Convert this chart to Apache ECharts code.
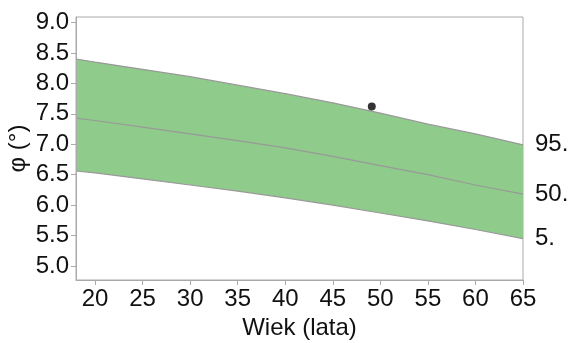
<!DOCTYPE html>
<html>
<head>
<meta charset="utf-8">
<script src="https://cdn.jsdelivr.net/npm/echarts@6/dist/echarts.min.js"></script>
<style>html,body{margin:0;padding:0;background:#fff;}#c{width:569px;height:343px;}</style>
</head>
<body>
<div id="c"></div>
<script>
const ages = [18, 20, 25, 30, 35, 40, 45, 50, 55, 60, 65];
const p95 = [8.40, 8.35, 8.23, 8.11, 7.97, 7.83, 7.68, 7.51, 7.33, 7.17, 6.99];
const p50 = [7.43, 7.39, 7.28, 7.17, 7.06, 6.94, 6.80, 6.65, 6.50, 6.33, 6.18];
const p5  = [6.56, 6.53, 6.43, 6.33, 6.23, 6.12, 6.00, 5.87, 5.74, 5.60, 5.45];
const point = [[49.1, 7.62]];
const xTicks = [20, 25, 30, 35, 40, 45, 50, 55, 60, 65];
const yTicks = [5.0, 5.5, 6.0, 6.5, 7.0, 7.5, 8.0, 8.5, 9.0];

const FONT = 'Liberation Sans';
const FS = 24;
const lineGray = '#999999';
const chart = echarts.init(document.getElementById('c'), null, {renderer: 'canvas'});
const bandRows = ages.map((a, i) => [a, p5[i], p95[i]]);

const endLbl = (txt) => ({
  show: true, formatter: txt, color: '#111', fontFamily: FONT, fontSize: FS, distance: 12
});

chart.setOption({
  animation: false,
  grid: {left: 76, right: 46, top: 17, bottom: 63, outerBoundsMode: 'none', containLabel: false,
         show: true, borderColor: '#aaaaaa', borderWidth: 1, backgroundColor: 'transparent'},
  xAxis: {
    type: 'value', min: 18, max: 65, z: 10,
    name: 'Wiek (lata)', nameLocation: 'middle', nameGap: 36, nameMoveOverlap: false,
    nameTextStyle: {fontFamily: FONT, fontSize: FS, color: '#111'},
    axisLine: {show: true, lineStyle: {color: '#aaaaaa'}},
    axisTick: {show: true, length: 5, lineStyle: {color: '#aaaaaa'}, customValues: xTicks},
    axisLabel: {fontFamily: FONT, fontSize: FS, color: '#111', margin: 7, customValues: xTicks},
    splitLine: {show: false}
  },
  yAxis: {
    type: 'value', min: 4.77, max: 9.09, z: 10,
    name: 'φ (°)', nameLocation: 'middle', nameGap: 46, nameRotate: 90, nameMoveOverlap: false,
    nameTextStyle: {fontFamily: FONT, fontSize: FS, color: '#111'},
    axisLine: {show: true, lineStyle: {color: '#aaaaaa'}},
    axisTick: {show: true, length: 5, lineStyle: {color: '#aaaaaa'}, customValues: yTicks},
    axisLabel: {fontFamily: FONT, fontSize: FS, color: '#111', margin: 7, customValues: yTicks,
      formatter: v => v.toFixed(1)},
    splitLine: {show: false}
  },
  series: [
    {type: 'custom', data: bandRows, z: 1, silent: true,
     renderItem: function (params, api) {
       if (params.dataIndex !== 0) return null;
       const top = bandRows.map(r => api.coord([r[0], r[2]]));
       const bot = bandRows.map(r => api.coord([r[0], r[1]])).reverse();
       return {type: 'polygon', shape: {points: top.concat(bot)}, style: {fill: '#8fcb8a'}};
     }},
    {type: 'line', name: '5.', data: ages.map((a, i) => [a, p5[i]]), symbol: 'none',
     lineStyle: {color: lineGray, width: 1.2}, z: 3, endLabel: endLbl('5.')},
    {type: 'line', name: '95.', data: ages.map((a, i) => [a, p95[i]]), symbol: 'none',
     lineStyle: {color: lineGray, width: 1.2}, z: 3, endLabel: endLbl('95.')},
    {type: 'line', name: '50.', data: ages.map((a, i) => [a, p50[i]]), symbol: 'none',
     lineStyle: {color: lineGray, width: 1.2}, z: 4, endLabel: endLbl('50.')},
    {type: 'scatter', data: point, symbolSize: 8, itemStyle: {color: '#000'}, z: 5}
  ]
});
</script>
</body>
</html>
